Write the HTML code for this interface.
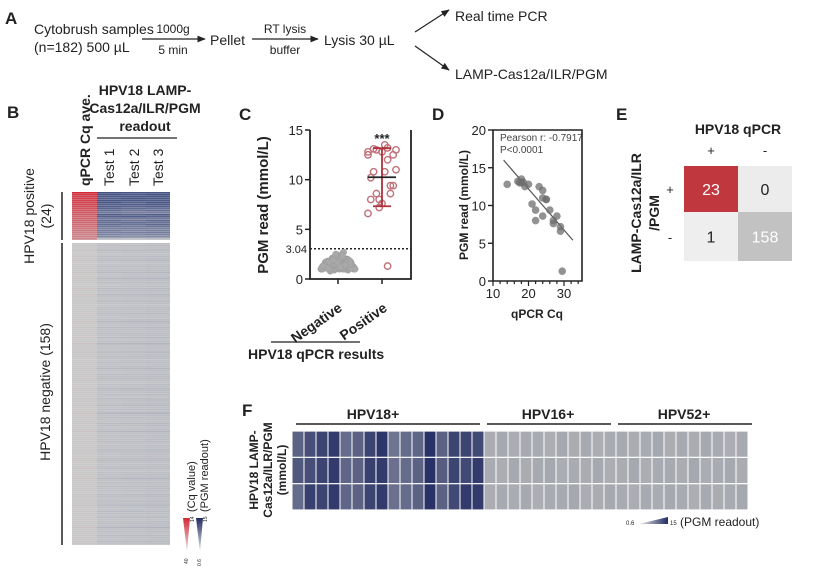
<!DOCTYPE html>
<html><head><meta charset="utf-8"><style>
body{margin:0;background:#fff}
svg{display:block;font-family:"Liberation Sans",Arial,sans-serif}
</style></head><body>
<svg id="fig" width="825" height="574" viewBox="0 0 825 574" xmlns="http://www.w3.org/2000/svg">
<defs>
<marker id="ar" viewBox="0 0 10 10" refX="9" refY="5" markerWidth="7" markerHeight="7" orient="auto"><path d="M0,1 L10,5 L0,9 z" fill="#222"/></marker>
<linearGradient id="gRed" x1="0" y1="0" x2="0" y2="1"><stop offset="0" stop-color="#d42a35"/><stop offset="1" stop-color="#e8e8e8"/></linearGradient>
<linearGradient id="gBlue" x1="0" y1="0" x2="0" y2="1"><stop offset="0" stop-color="#222c62"/><stop offset="1" stop-color="#e8e8e8"/></linearGradient>
<linearGradient id="gBlueH" x1="0" y1="0" x2="1" y2="0"><stop offset="0" stop-color="#e8e8e8"/><stop offset="1" stop-color="#222c62"/></linearGradient>
</defs>

<g font-size="14" fill="#222">
<text x="5" y="24" font-weight="bold" font-size="17">A</text>
<text x="34" y="34">Cytobrush samples</text>
<text x="34" y="52">(n=182) 500 µL</text>
<line x1="142" y1="39" x2="205" y2="39" stroke="#222" stroke-width="1.2" marker-end="url(#ar)"/>
<text x="173" y="33" text-anchor="middle" font-size="12">1000g</text>
<text x="173" y="54" text-anchor="middle" font-size="12">5 min</text>
<text x="210" y="45">Pellet</text>
<line x1="252" y1="39" x2="318" y2="39" stroke="#222" stroke-width="1.2" marker-end="url(#ar)"/>
<text x="285" y="33" text-anchor="middle" font-size="12">RT lysis</text>
<text x="285" y="54" text-anchor="middle" font-size="12">buffer</text>
<text x="324" y="45">Lysis 30 µL</text>
<line x1="415" y1="32" x2="449" y2="10" stroke="#222" stroke-width="1.2" marker-end="url(#ar)"/>
<line x1="415" y1="46" x2="449" y2="70" stroke="#222" stroke-width="1.2" marker-end="url(#ar)"/>
<text x="455" y="21">Real time PCR</text>
<text x="455" y="79">LAMP-Cas12a/ILR/PGM</text>
</g>

<g fill="#222">
<text x="7" y="118" font-weight="bold" font-size="17">B</text>
<text transform="translate(90,186) rotate(-90)" font-weight="bold" font-size="14">qPCR Cq ave.</text>
<text transform="translate(114,186) rotate(-90)" font-size="14">Test 1</text>
<text transform="translate(139,186) rotate(-90)" font-size="14">Test 2</text>
<text transform="translate(163,186) rotate(-90)" font-size="14">Test 3</text>
<text x="145" y="95" text-anchor="middle" font-weight="bold" font-size="14">HPV18 LAMP-</text>
<text x="145" y="113" text-anchor="middle" font-weight="bold" font-size="14">Cas12a/ILR/PGM</text>
<text x="145" y="131" text-anchor="middle" font-weight="bold" font-size="14">readout</text>
<line x1="97" y1="138" x2="177" y2="138" stroke="#222" stroke-width="1.3"/>
<line x1="62" y1="192" x2="62" y2="240" stroke="#222" stroke-width="1.5"/>
<line x1="62" y1="243" x2="62" y2="545" stroke="#222" stroke-width="1.5"/>
<text transform="translate(34,216) rotate(-90)" text-anchor="middle" font-size="14">HPV18 positive</text>
<text transform="translate(51,216) rotate(-90)" text-anchor="middle" font-size="14">(24)</text>
<text transform="translate(50,392) rotate(-90)" text-anchor="middle" font-size="14">HPV18 negative (158)</text>
<g font-size="5">
<polygon points="183,518 190,518 187,552" fill="url(#gRed)"/>
<polygon points="196,518 203,518 200,552" fill="url(#gBlue)"/>
<text transform="translate(194,522) rotate(-90)">14</text>
<text transform="translate(188,564) rotate(-90)">40</text>
<text transform="translate(207,522) rotate(-90)">15</text>
<text transform="translate(201,566) rotate(-90)">0.6</text>
<text transform="translate(195,512) rotate(-90)" font-size="11">(Cq value)</text>
<text transform="translate(208,512) rotate(-90)" font-size="11">(PGM readout)</text>
</g>
</g>
<g id="hmB"></g>

<g fill="#222">
<text x="239" y="120" font-weight="bold" font-size="17">C</text>
<text transform="translate(268,205) rotate(-90)" text-anchor="middle" font-weight="bold" font-size="15">PGM read (mmol/L)</text>
<text transform="translate(343,310) rotate(-35)" text-anchor="end" font-weight="bold" font-size="14">Negative</text>
<text transform="translate(388,310) rotate(-35)" text-anchor="end" font-weight="bold" font-size="14">Positive</text>
<line x1="271" y1="342" x2="360" y2="342" stroke="#222" stroke-width="1.3"/>
<text x="248" y="359" font-weight="bold" font-size="14">HPV18 qPCR results</text>
</g>
<g id="plotC"></g>

<g fill="#222">
<text x="432" y="120" font-weight="bold" font-size="17">D</text>
<text transform="translate(468,205) rotate(-90)" text-anchor="middle" font-weight="bold" font-size="12">PGM read (mmol/L)</text>
<text x="537" y="318" text-anchor="middle" font-weight="bold" font-size="12">qPCR Cq</text>
<text x="500" y="141" font-size="10" fill="#444">Pearson r: -0.7917</text>
<text x="500" y="153" font-size="10" fill="#444">P&lt;0.0001</text>
</g>
<g id="plotD"></g>

<g fill="#222">
<text x="616" y="120" font-weight="bold" font-size="17">E</text>
<text x="738" y="134" text-anchor="middle" font-weight="bold" font-size="14">HPV18 qPCR</text>
<text x="711" y="155" text-anchor="middle" font-size="13">+</text>
<text x="765" y="155" text-anchor="middle" font-size="13">-</text>
<text x="670" y="194" text-anchor="middle" font-size="13">+</text>
<text x="670" y="242" text-anchor="middle" font-size="13">-</text>
<text transform="translate(641,213) rotate(-90)" text-anchor="middle" font-weight="bold" font-size="14">LAMP-Cas12a/ILR</text>
<text transform="translate(659,213) rotate(-90)" text-anchor="middle" font-weight="bold" font-size="14">/PGM</text>
</g>
<g id="plotE"></g>

<g fill="#222">
<text x="242" y="416" font-weight="bold" font-size="17">F</text>
<text x="373" y="419" text-anchor="middle" font-weight="bold" font-size="14">HPV18+</text>
<text x="548" y="419" text-anchor="middle" font-weight="bold" font-size="14">HPV16+</text>
<text x="684" y="419" text-anchor="middle" font-weight="bold" font-size="14">HPV52+</text>
<line x1="296" y1="424" x2="480" y2="424" stroke="#222" stroke-width="1.5"/>
<line x1="487" y1="424" x2="611" y2="424" stroke="#222" stroke-width="1.5"/>
<line x1="618" y1="424" x2="752" y2="424" stroke="#222" stroke-width="1.5"/>
<text transform="translate(258,470) rotate(-90)" text-anchor="middle" font-weight="bold" font-size="12">HPV18 LAMP-</text>
<text transform="translate(272,470) rotate(-90)" text-anchor="middle" font-weight="bold" font-size="12">Cas12a/ILR/PGM</text>
<text transform="translate(286,470) rotate(-90)" text-anchor="middle" font-weight="bold" font-size="12">(mmol/L)</text>
<g>
<text x="626" y="525" font-size="6">0.6</text>
<polygon points="639,524 668,524 668,517" fill="url(#gBlueH)"/>
<text x="670" y="525" font-size="6">15</text>
<text x="680" y="526" font-size="12">(PGM readout)</text>
</g>
</g>
<g id="hmF"></g>
</svg>
<script>
const posCq = [14,17,17.5,18,18,18.5,19,20,21,22,22,23,24,24,24,25,25,26,27,27,28,29,29,29.5];
const posPGM = [12.8,13.2,13,13,13.5,13.1,12.5,12.8,10.2,9.4,8,12.5,12,8.6,11,10.8,10.8,9.4,7.6,8,8.6,7.2,6.6,1.3];
const posT1 = [13.5,13,12.5,12,13,12.8,11.5,12,11,10,9,12,11.5,9,10.5,10,10.2,9,8,8.5,8,7.5,7,1.5];
const posT2 = [13,12.5,13,12.8,12.5,11.5,12,11,10.5,9,8.5,11.5,12,8.5,9.5,10.5,9.5,8.5,8.2,7.5,8.2,7,6.5,1.2];
const posT3 = [13.2,13.4,12.8,12.6,12.4,12.9,12.2,11.8,10,9.8,8.2,12.1,11.2,8.8,10.8,9.8,10.6,9.2,7.8,8.1,8.4,7.4,6.8,1.4];
const negPGM = [1.2,1.5,1.1,1.8,1.3,0.9,1.6,1.4,2.1,1.2,1.0,1.7,1.3,1.5,1.9,1.1,1.4,2.3,1.2,1.6,
1.0,1.3,1.8,1.5,1.2,2.0,1.4,1.1,1.7,1.3,0.8,1.5,1.6,1.2,1.9,1.4,1.0,1.3,2.2,1.5,
1.1,1.7,1.4,1.2,1.6,1.3,1.8,1.0,1.5,2.4,1.2,1.4,1.1,1.9,1.3,1.6,1.5,1.0,1.7,1.2,
1.4,2.0,1.3,1.1,1.6,1.5,1.8,1.2,0.9,1.4,1.3,2.1,1.6,1.2,1.5,1.0,1.7,1.4,1.3,1.9,
1.1,1.5,1.2,2.7,1.4,1.6,1.3,1.0,1.8,1.5,1.2,1.4,2.2,1.1,1.6,1.3,1.5,1.7,1.0,1.4,
1.2,1.9,1.5,1.3,1.1,1.6,2.0,1.4,1.2,1.5,1.8,1.0,1.3,1.6,1.4,2.3,1.1,1.5,1.2,1.7,
1.3,1.4,1.0,1.9,1.5,1.2,1.6,1.3,2.1,1.4,1.1,1.7,1.5,1.2,1.8,1.0,1.4,1.6,1.3,2.5,
1.2,1.5,1.1,1.7,1.4,1.3,1.9,1.2];
const dCq = posCq;
const dPGM = posPGM;
const dTicksX = [10,20,30];
const dTicksY = [0,5,10,15,20];
const cTicksY = [0,5,10,15];
const cutoff = 3.04;
const confusion = [[23,0],[1,158]];
const f18 = [[9,11,12,13,8,9,12,13.5,7,8,8.5,14,9,12,12,11.5],
             [10,11,12,13,8.5,9,12.5,13,7.5,8,9,14,9.5,12,11.5,13],
             [8,12.5,12,13,8.5,9,12,13,7.5,8,9,14,9,11.5,13,13]];
const f16 = [[1.2,1.5,1.1,1.4,1.3,1.0,1.6,1.2,1.4,1.1,1.3],
             [1.3,1.1,1.5,1.2,1.4,1.6,1.1,1.3,1.2,1.5,1.0],
             [1.1,1.4,1.2,1.5,1.0,1.3,1.4,1.6,1.1,1.2,1.5]];
const f52 = [[1.4,1.2,1.3,1.6,1.1,1.4,1.2,1.5,1.3,1.0,1.4],
             [1.2,1.5,1.1,1.3,1.4,1.2,1.6,1.1,1.3,1.5,1.2],
             [1.3,1.1,1.4,1.2,1.5,1.3,1.0,1.4,1.2,1.3,1.6]];

const NS="http://www.w3.org/2000/svg";
function mk(tag,attrs,parent){const e=document.createElementNS(NS,tag);for(const k in attrs)e.setAttribute(k,attrs[k]);parent.appendChild(e);return e;}
function lerp(a,b,t){return a.map((v,i)=>Math.round(v+(b[i]-v)*t));}
function pgmRGB(v){const t=Math.max(0,Math.min(1,(v-0.6)/(15-0.6)));return lerp([176,178,182],[30,40,96],t);}
function pgmColor(v){return 'rgb('+pgmRGB(v).join(',')+')';}
function pgmColorB(v){const t=Math.max(0,Math.min(1,(v-0.6)/(15-0.6)));return 'rgb('+lerp([196,197,200],[52,66,120],t).join(',')+')';}
function cqColor(v){const t=Math.max(0,Math.min(1,(40-v)/(40-14)));return 'rgb('+lerp([200,200,200],[214,40,52],t).join(',')+')';}

(function(){
 const g=document.getElementById('hmB');
 const cols=[72,97,121,146,170];
 const posY0=192,posH=48,negY0=243,negH=302;
 mk('rect',{x:72,y:192,width:98,height:48,fill:'#dfe2ea'},g);
 mk('rect',{x:72,y:243,width:98,height:302,fill:'#e4e4e4'},g);
 posCq.forEach((cq,i)=>{
  const h=posH/posCq.length,y=posY0+i*h;
  const vals=[null,posT1[i],posT2[i],posT3[i]];
  for(let c=0;c<4;c++){
   const r=mk('rect',{x:cols[c],y:y,width:cols[c+1]-cols[c],height:h-0.25,fill:c==0?cqColor(cq):pgmColorB(vals[c])},g);
   
   
  }
 });
 negPGM.forEach((v,i)=>{
  const h=negH/negPGM.length,y=negY0+i*h;
  for(let c=0;c<4;c++){
   const fill=c==0?cqColor(40-(v-1)*0.8):pgmColorB(v+(c-2)*0.15);
   const r=mk('rect',{x:cols[c],y:y,width:cols[c+1]-cols[c],height:h-0.25,fill:fill},g);
   
   
  }
 });
})();

(function(){
 const g=document.getElementById('plotC');
 const x0=310,x1=411,yTop=130,yBot=279;
 const y=v=>yBot-(v/15)*(yBot-yTop);
 const catX={neg:338,pos:382};
 const ax=mk('path',{d:`M${x0},${yTop} V${yBot} H${x1} V${yTop}`,fill:'none',stroke:'#222','stroke-width':1.8},g);
 
 cTicksY.forEach(t=>{
  mk('line',{x1:x0-5,x2:x0,y1:y(t),y2:y(t),stroke:'#222','stroke-width':1.5},g);
  const tx=mk('text',{x:x0-7,y:y(t)+5,'text-anchor':'end','font-size':13,fill:'#222'},g);tx.textContent=t;
  
 });
 [catX.neg,catX.pos].forEach(cx=>mk('line',{x1:cx,x2:cx,y1:yBot,y2:yBot+5,stroke:'#222','stroke-width':1.5},g));
 const cl=mk('line',{x1:x0,x2:x1,y1:y(cutoff),y2:y(cutoff),stroke:'#222','stroke-width':1.5,'stroke-dasharray':'2,2'},g);
 
 const ct=mk('text',{x:x0-3,y:y(cutoff)+4,'text-anchor':'end','font-size':11,fill:'#222'},g);ct.textContent=cutoff.toFixed(2);
 negPGM.forEach((v,i)=>{
  const off=((i*37)%29-14)*1.3*(1-Math.min(1,(v-0.8)/2.2)*0.75);
  const c=mk('circle',{cx:catX.neg+off,cy:y(v),r:3.2,fill:'#a9a9a9',stroke:'#9a9a9a','stroke-width':0.5},g);
  
 });
 posPGM.forEach((v,i)=>{
  const off=((i*7)%11-5)*2.8;
  const c=mk('circle',{cx:catX.pos+off,cy:y(v),r:3.2,fill:'none',stroke:'#c07078','stroke-width':1.4},g);
  
 });
 const mean=posPGM.reduce((a,b)=>a+b,0)/posPGM.length;
 const sd=Math.sqrt(posPGM.reduce((a,b)=>a+(b-mean)**2,0)/(posPGM.length-1));
 const eb=mk('g',{},g);
 mk('line',{x1:catX.pos,x2:catX.pos,y1:y(mean+sd),y2:y(mean-sd),stroke:'#b0303a','stroke-width':1.8},eb);
 mk('line',{x1:catX.pos-9,x2:catX.pos+9,y1:y(mean+sd),y2:y(mean+sd),stroke:'#b0303a','stroke-width':1.8},eb);
 mk('line',{x1:catX.pos-9,x2:catX.pos+9,y1:y(mean-sd),y2:y(mean-sd),stroke:'#b0303a','stroke-width':1.8},eb);
 mk('line',{x1:catX.pos-14,x2:catX.pos+14,y1:y(mean),y2:y(mean),stroke:'#222','stroke-width':1.8},eb);
 const st=mk('text',{x:catX.pos,y:yTop+13,'text-anchor':'middle','font-size':13,'font-weight':'bold',fill:'#222'},g);st.textContent='***';
 
})();

(function(){
 const g=document.getElementById('plotD');
 const x0=493,x1=582,yTop=130,yBot=281;
 const xs=v=>x0+(v-10)*3.55, y=v=>yBot-(v/20)*(yBot-yTop);
 const ax=mk('path',{d:`M${x0},${yTop} V${yBot} H${x1} V${yTop} Z`,fill:'none',stroke:'#222','stroke-width':1.6},g);
 
 dTicksY.forEach(t=>{
  mk('line',{x1:x0-5,x2:x0,y1:y(t),y2:y(t),stroke:'#222','stroke-width':1.4},g);
  const tx=mk('text',{x:x0-7,y:y(t)+5,'text-anchor':'end','font-size':13,fill:'#222'},g);tx.textContent=t;
  
 });
 for(let v=10;v<=34;v+=2){const maj=dTicksX.includes(v);mk('line',{x1:xs(v),x2:xs(v),y1:yBot,y2:yBot+(maj?5:3),stroke:'#222','stroke-width':1.2},g);}
 dTicksX.forEach(t=>{
  const tx=mk('text',{x:xs(t),y:yBot+17,'text-anchor':'middle','font-size':13,fill:'#222'},g);tx.textContent=t;
  
 });
 const rl=mk('line',{x1:xs(13),y1:y(16),x2:xs(32.5),y2:y(5.4),stroke:'#555','stroke-width':1.2},g);
 
 dCq.forEach((cq,i)=>{
  const c=mk('circle',{cx:xs(cq),cy:y(dPGM[i]),r:3.8,fill:'rgba(110,110,110,0.75)'},g);
  
 });
})();

(function(){
 const g=document.getElementById('plotE');
 const xs=[684,738,792], ys=[166,212,261];
 const fills=[['#c1373e','#ececec'],['#eeeeee','#c2c2c2']];
 const tc=[['#fff','#222'],['#222','#fff']];
 for(let r=0;r<2;r++)for(let c=0;c<2;c++){
  const rc=mk('rect',{x:xs[c],y:ys[r],width:xs[c+1]-xs[c],height:ys[r+1]-ys[r],fill:fills[r][c]},g);
  
  const t=mk('text',{x:(xs[c]+xs[c+1])/2,y:(ys[r]+ys[r+1])/2+6,'text-anchor':'middle','font-size':16,fill:tc[r][c]},g);
  t.textContent=confusion[r][c];
  
 }
})();

(function(){
 const g=document.getElementById('hmF');
 const x0=292,x1=748,y0=431,y1=510;
 const n=f18[0].length+f16[0].length+f52[0].length;
 const cw=(x1-x0)/n, rh=(y1-y0)/3;
 mk('rect',{x:x0,y:y0,width:x1-x0,height:y1-y0,fill:'#fff'},g);
 for(let r=0;r<3;r++){
  const row=f18[r].concat(f16[r],f52[r]);
  row.forEach((v,i)=>{
   const c=mk('rect',{x:x0+i*cw+0.5,y:y0+r*rh+0.6,width:cw-1,height:rh-1.2,fill:pgmColor(v)},g);
   
   
  });
 }
})();
</script>
</body></html>
